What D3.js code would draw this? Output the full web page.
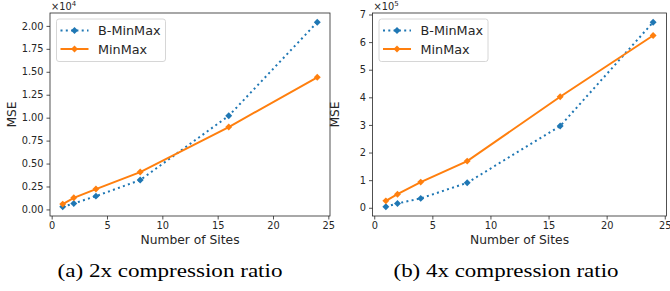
<!DOCTYPE html>
<html>
<head>
<meta charset="utf-8">
<script src="https://cdn.jsdelivr.net/npm/d3@7"></script>
<style>
  html, body { margin: 0; padding: 0; background: #fff; }
  svg text { font-family: "DejaVu Sans", sans-serif; fill: #262626; }
  svg text.caption { font-family: "Liberation Serif", "DejaVu Serif", serif; fill: #000; }
</style>
</head>
<body>
<svg id="chart" width="670" height="291"></svg>
<script>
// DATA
const sites = [1, 2, 4, 8, 16, 24];
const bMinMax2x = [290, 650, 1450, 3200, 10200, 20400];
const minMax2x = [580, 1270, 2220, 4070, 8980, 14400];
const bMinMax4x = [3600, 15700, 34000, 90500, 296000, 672000];
const minMax4x = [25000, 49000, 93000, 169000, 402000, 624000];
const xTicks = [0, 5, 10, 15, 20, 25];
const yTicks2x = [0, 0.25, 0.5, 0.75, 1.0, 1.25, 1.5, 1.75, 2.0];
const yTicks4x = [0, 1, 2, 3, 4, 5, 6, 7];
const seriesNames = ['B-MinMax', 'MinMax'];
const captions = ['(a) 2x compression ratio', '(b) 4x compression ratio'];

const BLUE = '#1f77b4', ORANGE = '#ff7f0e';
const svg = d3.select('#chart');

function padded(vals) {
  const lo = d3.min(vals), hi = d3.max(vals), m = (hi - lo) * 0.05;
  return [lo - m, hi + m];
}

function panel(box, bVals, mVals, scaleExp, yTicks, fmt, caption, capX) {
  const g = svg.append('g');
  const k10 = Math.pow(10, scaleExp);
  const x = d3.scaleLinear().domain(padded(sites)).range([box.left, box.right]);
  const y = d3.scaleLinear().domain(padded(bVals.concat(mVals).map(v => v / k10)))
    .range([box.bottom, box.top]);

  // AXES
  const ax = g.append('g')
    .attr('transform', `translate(0,${box.bottom})`)
    .call(d3.axisBottom(x).tickValues(xTicks).tickSize(3.5).tickPadding(3));
  const ay = g.append('g')
    .attr('transform', `translate(${box.left},0)`)
    .call(d3.axisLeft(y).tickValues(yTicks).tickFormat(fmt).tickSize(3.5).tickPadding(3));
  [ax, ay].forEach(a => {
    a.select('.domain').remove();
    a.selectAll('.tick line').attr('stroke', '#262626').attr('stroke-width', 0.8);
    a.selectAll('text').attr('font-size', 9.8).attr('fill', '#262626');
  });

  g.append('rect')
    .attr('x', box.left).attr('y', box.top)
    .attr('width', box.right - box.left).attr('height', box.bottom - box.top)
    .attr('fill', 'none').attr('stroke', '#262626').attr('stroke-width', 0.8);

  // offset text
  const off = g.append('text').attr('x', box.left + 1).attr('y', box.top - 3).attr('font-size', 9.8);
  off.append('tspan').text('×10');
  off.append('tspan').attr('dy', -4).attr('font-size', 7).text(scaleExp);

  // labels
  g.append('text')
    .attr('x', (box.left + box.right) / 2).attr('y', 243.5)
    .attr('text-anchor', 'middle').attr('font-size', 12.3)
    .text('Number of Sites');
  g.append('text')
    .attr('transform', `translate(${box.left - 34},${(box.top + box.bottom) / 2}) rotate(-90)`)
    .attr('text-anchor', 'middle').attr('font-size', 12.3)
    .text('MSE');
  g.append('text').attr('class', 'caption')
    .attr('x', capX).attr('y', 277)
    .attr('text-anchor', 'middle').attr('font-size', 18.5)
    .attr('textLength', 225).attr('lengthAdjust', 'spacingAndGlyphs')
    .text(caption);

  // LINES
  const line = d3.line().x((d, i) => x(sites[i])).y(d => y(d / k10));
  const series = [
    { vals: bVals, color: BLUE, dash: '2,3.3' },
    { vals: mVals, color: ORANGE, dash: null }
  ];
  const marker = d3.symbol().type(d3.symbolSquare).size(24);
  series.forEach(s => {
    g.append('path').datum(s.vals)
      .attr('d', line).attr('fill', 'none')
      .attr('stroke', s.color).attr('stroke-width', 2)
      .attr('stroke-dasharray', s.dash);
    g.selectAll(null).data(s.vals).join('path')
      .attr('d', marker)
      .attr('transform', (d, i) => `translate(${x(sites[i])},${y(d / k10)}) rotate(45)`)
      .attr('fill', s.color);
  });

  // LEGEND
  const lg = g.append('g').attr('transform', `translate(${box.left + 6.5},${box.top + 6})`);
  lg.append('rect').attr('width', 109).attr('height', 42.5).attr('rx', 2.5)
    .attr('fill', '#fff').attr('fill-opacity', 0.8)
    .attr('stroke', '#cccccc').attr('stroke-width', 0.8);
  series.forEach((s, k) => {
    const yy = 11.5 + k * 18.5;
    lg.append('line').attr('x1', 4).attr('x2', 32).attr('y1', yy).attr('y2', yy)
      .attr('stroke', s.color).attr('stroke-width', 2).attr('stroke-dasharray', s.dash);
    lg.append('path').attr('d', marker)
      .attr('transform', `translate(18,${yy}) rotate(45)`).attr('fill', s.color);
    lg.append('text').attr('x', 41.5).attr('y', yy + 4.5).attr('font-size', 12.8)
      .text(seriesNames[k]);
  });
}

panel({ left: 50, right: 330, top: 13, bottom: 216 }, bMinMax2x, minMax2x, 4,
  yTicks2x, d3.format('.2f'), captions[0], 170);
panel({ left: 372.5, right: 666.5, top: 13, bottom: 216 }, bMinMax4x, minMax4x, 5,
  yTicks4x, d3.format('d'), captions[1], 506);
</script>
</body>
</html>
